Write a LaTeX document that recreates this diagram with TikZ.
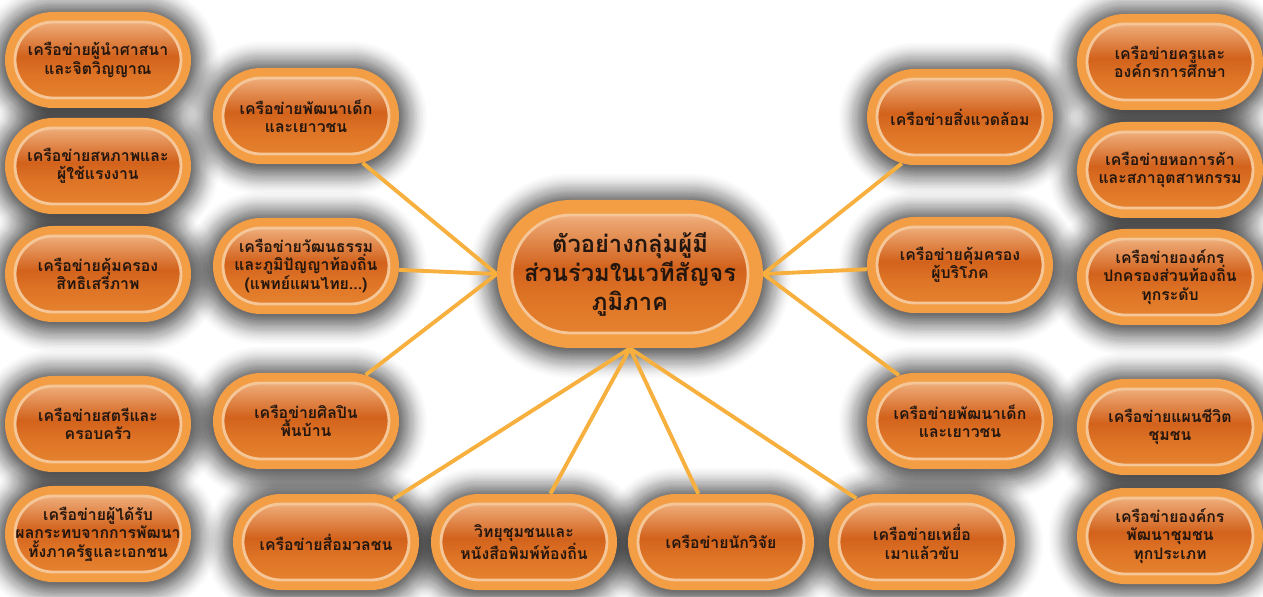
\documentclass[tikz,border=0pt]{standalone}
\usepackage{fontspec}
\newfontfamily\thai[Script=Thai]{Loma}
\usetikzlibrary{shapes.misc}
\definecolor{ring}{RGB}{243,157,68}
\definecolor{hilite}{RGB}{248,214,182}
\definecolor{glazetop}{RGB}{236,165,112}
\definecolor{glazemid}{RGB}{210,98,28}
\definecolor{glazelow}{RGB}{222,116,38}
\definecolor{glazebot}{RGB}{232,136,50}
\definecolor{rim}{RGB}{245,198,152}
\definecolor{ink}{RGB}{35,22,14}
\definecolor{link}{RGB}{247,175,62}
\pgfdeclareverticalshading{glossy}{100bp}{color(0bp)=(glazebot); color(25bp)=(glazebot);
  color(42bp)=(glazelow); color(52bp)=(glazemid); color(68bp)=(glazetop);
  color(75bp)=(hilite); color(100bp)=(hilite)}
\pgfdeclarelayer{halo}
\pgfdeclarelayer{links}
\pgfsetlayers{halo,links,main}
\tikzset{
  glaze/.style 2 args={path picture={
    \shade[shading=glossy, draw=rim, line width=1.6pt, rounded corners=#2]
      ([shift={(#1,-#1)}]path picture bounding box.north west) rectangle
      ([shift={(-#1,#1)}]path picture bounding box.south east);}},
  pill/.style={rounded rectangle, minimum width=3.72cm, minimum height=1.92cm,
    inner sep=0pt, fill=ring, text=ink, align=center,
    font=\thai\bfseries\fontsize{9}{10.5}\selectfont, glaze={0.2cm}{0.76cm}},
  hub/.style={pill, minimum width=5.32cm, minimum height=2.96cm,
    font=\thai\bfseries\fontsize{13.5}{16.5}\selectfont, glaze={0.3cm}{1.18cm}},
  halo/.style 2 args={rounded rectangle, inner sep=0pt, fill=black, fill opacity=\haloop,
    minimum width={#1cm+\k*0.06cm}, minimum height={#2cm+\k*0.06cm}},
  link/.style={draw=link, line width=2.2pt},
}
\begin{document}
\begin{tikzpicture}
  \useasboundingbox (0,0) rectangle (25.26,11.92);
  \path
    (1.96,10.72) node[pill] (a1) {เครือข่ายผู้นำศาสนา\\และจิตวิญญาณ}
    (1.96,8.60) node[pill] (a2) {เครือข่ายสหภาพและ\\ผู้ใช้แรงงาน}
    (1.96,6.44) node[pill] (a3) {เครือข่ายคุ้มครอง\\สิทธิเสรีภาพ}
    (1.96,3.44) node[pill] (a4) {เครือข่ายสตรีและ\\ครอบครัว}
    (1.96,1.24) node[pill] (a5) {เครือข่ายผู้ได้รับ\\ผลกระทบจากการพัฒนา\\ทั้งภาครัฐและเอกชน}
    (6.12,9.60) node[pill] (b1) {เครือข่ายพัฒนาเด็ก\\และเยาวชน}
    (6.12,6.60) node[pill] (b2) {เครือข่ายวัฒนธรรม\\และภูมิปัญญาท้องถิ่น\\(แพทย์แผนไทย...)}
    (6.12,3.50) node[pill] (b3) {เครือข่ายศิลปิน\\พื้นบ้าน}
    (12.60,6.44) node[hub] (hub) {ตัวอย่างกลุ่มผู้มี\\ส่วนร่วมในเวทีสัญจร\\ภูมิภาค}
    (19.20,9.58) node[pill] (c1) {เครือข่ายสิ่งแวดล้อม}
    (19.20,6.62) node[pill] (c2) {เครือข่ายคุ้มครอง\\ผู้บริโภค}
    (19.20,3.50) node[pill] (c3) {เครือข่ายพัฒนาเด็ก\\และเยาวชน}
    (23.40,10.68) node[pill] (d1) {เครือข่ายครูและ\\องค์กรการศึกษา}
    (23.40,8.52) node[pill] (d2) {เครือข่ายหอการค้า\\และสภาอุตสาหกรรม}
    (23.40,6.38) node[pill] (d3) {เครือข่ายองค์กร\\ปกครองส่วนท้องถิ่น\\ทุกระดับ}
    (23.40,3.38) node[pill] (d4) {เครือข่ายแผนชีวิต\\ชุมชน}
    (23.40,1.20) node[pill] (d5) {เครือข่ายองค์กร\\พัฒนาชุมชน\\ทุกประเภท}
    (6.52,1.08) node[pill] (e1) {เครือข่ายสื่อมวลชน}
    (10.48,1.08) node[pill] (e2) {วิทยุชุมชนและ\\หนังสือพิมพ์ท้องถิ่น}
    (14.42,1.08) node[pill] (e3) {เครือข่ายนักวิจัย}
    (18.44,1.08) node[pill] (e4) {เครือข่ายเหยื่อ\\เมาแล้วขับ};
  \begin{pgfonlayer}{halo}
    \fill[white] (0,0) rectangle (25.26,11.92);
    \foreach \n in {a1,a2,a3,a4,a5,b1,b2,b3,c1,c2,c3,d1,d2,d3,d4,d5,e1,e2,e3,e4}{
      \foreach \k in {0,...,19}{
        \pgfmathsetmacro\haloop{0.066-\k*0.0029}
        \node[halo={3.72}{1.92}] at ([yshift=-1pt]\n) {};
      }
    }
    \foreach \k in {0,...,19}{
      \pgfmathsetmacro\haloop{0.066-\k*0.0029}
      \node[halo={5.32}{2.96}] at ([yshift=-1pt]hub) {};
    }
  \end{pgfonlayer}
  \begin{pgfonlayer}{links}
    \begin{scope}[link]
      \draw (b1) to (hub.west);
      \draw (b2) to (hub.west);
      \draw (b3) to (hub.west);
      \draw (c1) to (hub.east);
      \draw (c2) to (hub.east);
      \draw (c3) to (hub.east);
      \draw (e1) to (hub.south);
      \draw (e2) to (hub.south);
      \draw (e3) to (hub.south);
      \draw (e4) to (hub.south);
    \end{scope}
  \end{pgfonlayer}
\end{tikzpicture}
\end{document}
